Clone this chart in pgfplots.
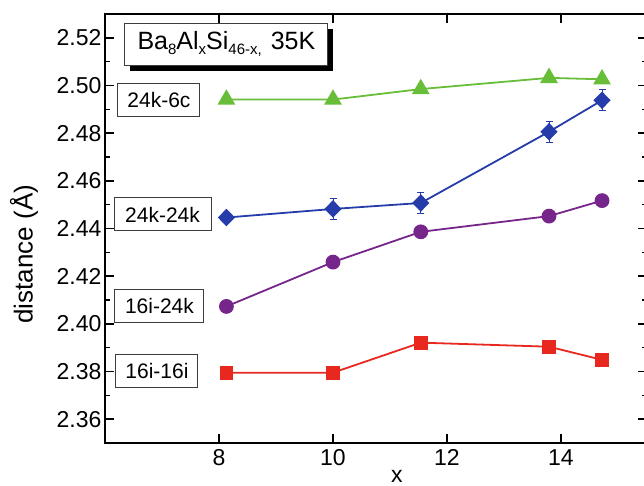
\documentclass[border=0pt]{standalone}
\usepackage{fontspec}
\setmainfont{Liberation Sans}
\usepackage{pgfplots}
\pgfplotsset{compat=1.18}
\definecolor{cgreen}{RGB}{104,190,56}
\definecolor{cblue}{RGB}{38,60,170}
\definecolor{cpurple}{RGB}{118,38,138}
\definecolor{cred}{RGB}{232,40,30}
\definecolor{boxgray}{RGB}{60,60,60}
\newcommand{\sub}[1]{\raisebox{-5.5pt}{\fontsize{15}{15}\selectfont #1}}
\begin{document}
\begin{tikzpicture}
\begin{axis}[
  scale only axis, width=541.5pt, height=429pt,
  xmin=6, xmax=15.5, ymin=2.35, ymax=2.53,
  xtick={8,10,12,14},
  ytick={2.36,2.38,2.40,2.42,2.44,2.46,2.48,2.50,2.52},
  minor y tick num=1,
  tick align=inside,
  major tick length=9pt, minor tick length=4.5pt,
  axis line style={line width=1.5pt},
  every tick/.style={black, line width=1.5pt},
  /pgf/number format/assume math mode=true,
  tick label style={font=\fontsize{23}{23}\selectfont},
  xticklabel style={yshift=-3pt},
  yticklabel style={/pgf/number format/.cd, fixed, fixed zerofill, precision=2},
  xlabel={x},
  xlabel style={font=\fontsize{23}{23}\selectfont, at={(rel axis cs:0.539,0)}, anchor=center, yshift=-33pt},
  ylabel={distance (Å)},
  ylabel style={font=\fontsize{26}{26}\selectfont, at={(rel axis cs:0,0.44)}, anchor=center, yshift=81pt},
  error bars/error bar style={line width=1pt},
  error bars/error mark options={rotate=90, mark size=3.5pt, line width=1pt},
]
\addplot[cgreen, line width=1.8pt, mark=triangle*, mark size=8.5pt, mark options={fill=cgreen},
  error bars/.cd, y dir=both, y explicit] table[x=x, y=y, y error=e] {
x y e
8.13 2.4941 0.0010
10.00 2.4941 0.0010
11.54 2.4985 0.0012
13.79 2.5032 0.0012
14.72 2.5026 0.0012
};
\addplot[cblue, line width=1.8pt, mark=diamond*, mark size=7.5pt, mark options={fill=cblue, xscale=1.3},
  error bars/.cd, y dir=both, y explicit] table[x=x, y=y, y error=e] {
x y e
8.13 2.4446 0.0015
10.00 2.4482 0.0044
11.54 2.4507 0.0044
13.79 2.4806 0.0045
14.72 2.4938 0.0045
};
\addplot[cpurple, line width=1.8pt, mark=*, mark size=6.5pt, mark options={fill=cpurple},
  error bars/.cd, y dir=both, y explicit] table[x=x, y=y, y error=e] {
x y e
8.13 2.4073 0.0010
10.00 2.4259 0.0010
11.54 2.4386 0.0012
13.79 2.4452 0.0012
14.72 2.4517 0.0012
};
\addplot[cred, line width=1.8pt, mark=square*, mark size=6pt, mark options={fill=cred},
  error bars/.cd, y dir=both, y explicit] table[x=x, y=y, y error=e] {
x y e
8.13 2.3795 0.0010
10.00 2.3795 0.0010
11.54 2.3921 0.0012
13.79 2.3904 0.0020
14.72 2.3849 0.0020
};
\node[fill=black, minimum width=203pt, minimum height=42pt, inner sep=0pt]
  at ([xshift=5pt, yshift=-6pt]axis cs:8.13,2.5174) {};
\node[draw=boxgray, line width=1pt, fill=white, minimum width=203pt, minimum height=42pt, inner sep=0pt,
  font=\fontsize{25}{25}\selectfont]
  at (axis cs:8.13,2.5174) {\raisebox{2pt}{Ba\sub{8}Al\sub{x}Si\sub{46-x,}\hspace{9pt}35K}};
\tikzset{lbl/.style={draw=boxgray, line width=1pt, fill=white, inner sep=0pt, minimum height=33pt,
  font=\fontsize{21}{21}\selectfont}}
\node[lbl, minimum width=82pt] at (axis cs:6.947,2.4941) {24k-6c};
\node[lbl, minimum width=97pt] at (axis cs:7.009,2.4459) {24k-24k};
\node[lbl, minimum width=89pt] at (axis cs:6.956,2.4075) {16i-24k};
\node[lbl, minimum width=82pt] at (axis cs:6.912,2.3802) {16i-16i};
\coordinate (ll) at (rel axis cs:0,0);
\coordinate (ur) at (rel axis cs:1,1);
\end{axis}
\pgfresetboundingbox
\path ([shift={(-105pt,-43pt)}]ll) rectangle ([shift={(-2.5pt,14pt)}]ur);
\end{tikzpicture}
\end{document}
